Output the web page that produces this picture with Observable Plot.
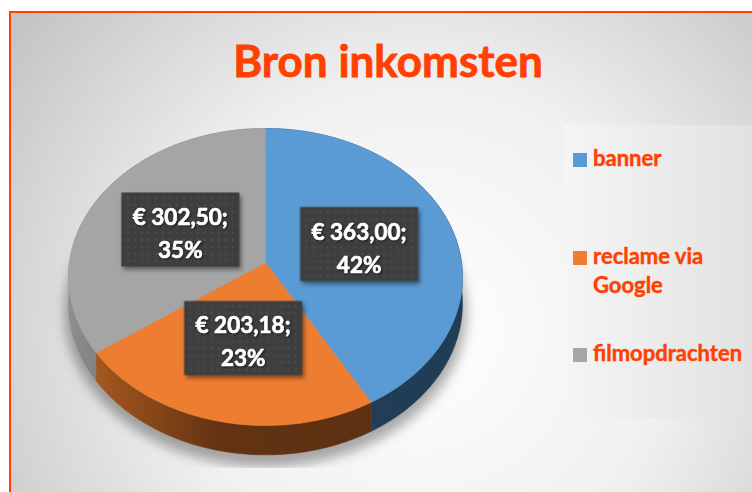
<!DOCTYPE html>
<html>
<head>
<meta charset="utf-8">
<script src="https://cdn.jsdelivr.net/npm/d3@7"></script>
<script src="https://cdn.jsdelivr.net/npm/@observablehq/plot@0.6"></script>
<style>
  body { margin: 0; background: #ffffff; }
  #wrap { position: relative; width: 752px; height: 492px; overflow: hidden; font-family: Lato, "Open Sans", sans-serif; }
  #bg { position: absolute; left: 9px; top: 11px; width: 820px; height: 540px;
        border-left: 2px solid #ff4000; border-top: 2px solid #ff4000;
        background: radial-gradient(circle 560px at 409px 317px, #ffffff 0%, #f0f0f0 45%, #c4c4c4 90%); }
  #legendbox { position: absolute; left: 565px; top: 125px; width: 200px; height: 293px;
        background: linear-gradient(to right, #f5f5f5, #e0e0e0); }
  #title { position: absolute; left: 188px; top: 38px; width: 400px; text-align: center;
        font-size: 44px; line-height: 44px; font-weight: 700; color: #ff4000; white-space: nowrap;
        -webkit-text-stroke: 0.8px #ff4000; }
  .leg { position: absolute; left: 573px; }
  .leg .sw { position: absolute; left: 0; width: 14px; height: 14px; }
  .leg .tx { position: absolute; left: 20px; width: 158px; font-size: 22px; line-height: 29px;
        font-weight: 700; color: #ff4000; -webkit-text-stroke: 0.4px #ff4000; }
  #chart { position: absolute; left: 0; top: 0; }
  .lblbox { filter: drop-shadow(2px 3px 2px rgba(0,0,0,0.45)); }
  .lbltext { filter: drop-shadow(1px 1px 1px rgba(0,0,0,0.55)); }
</style>
</head>
<body>
<div id="wrap">
  <div id="bg"></div>
  <div id="legendbox"></div>
  <div id="chart"></div>
  <div id="title"></div>
  <div id="legend"></div>
</div>
<script>
// ---- data ----
const chartTitle = "Bron inkomsten";
const categories = ["banner", "reclame via Google", "filmopdrachten"];
const values = [363.00, 203.18, 302.50];
const colors = ["#5b9bd5", "#ed7d31", "#a5a5a5"];
const wallFills = ["url(#wallBlue)", "url(#wallOrange)", "url(#wallGray)"];

// ---- 3D pie geometry (projective tilt) ----
const C = -0.0976;   // perspective factor
const T = 0.18;      // pie thickness in pie units
function proj(frac, r, t) {
  const th = 2 * Math.PI * frac;
  const u = r * Math.sin(th), v = -r * Math.cos(th);
  const w = 1 + C * v;
  return {px: u / w, py: (v + t) / w};
}
function arc(a0, a1, t, r = 1) {
  const n = Math.max(2, Math.ceil((a1 - a0) * 360));
  return d3.range(n + 1).map(k => proj(a0 + (a1 - a0) * k / n, r, t));
}
const total = d3.sum(values);
let acc = 0;
const slices = categories.map((c, i) => {
  const a0 = acc / total; acc += values[i];
  return {cat: c, value: values[i], a0, a1: acc / total};
});
const faces = slices.flatMap(s => [proj(0, 0, 0), ...arc(s.a0, s.a1, 0)].map(p => ({...p, key: s.cat})));
const walls = slices.flatMap(s => [...arc(s.a0, s.a1, 0), ...arc(s.a0, s.a1, T).reverse()].map(p => ({...p, key: s.cat + " zijkant"})));
const shadow = arc(0, 1, T + 0.05, 1.02);
const labels = slices.map(s => ({
  ...proj((s.a0 + s.a1) / 2, 0.5, 0),
  text: `€ ${s.value.toFixed(2).replace(".", ",")};\n${Math.round(s.value / total * 100)}%`
}));
const boxSymbol = {draw(ctx) { ctx.moveTo(-59, -37); ctx.lineTo(59, -37); ctx.lineTo(59, 37); ctx.lineTo(-59, 37); ctx.closePath(); }};

const chart = Plot.plot({
  width: 752, height: 492,
  x: {domain: [-1, 1], range: [69, 461], axis: null},
  y: {domain: [-1, 1], range: [114.9, 409.1], axis: null},
  color: {type: "ordinal", domain: [...categories, ...categories.map(c => c + " zijkant")], range: [...colors, ...wallFills]},
  style: {background: "transparent", overflow: "visible"},
  marks: [
    Plot.line(shadow, {x: "px", y: "py", fill: "#000000", fillOpacity: 0.32, stroke: "none", className: "pieshadow"}),
    Plot.line(walls, {x: "px", y: "py", z: "key", fill: "key", stroke: "key", strokeWidth: 0.6}),
    Plot.line(faces, {x: "px", y: "py", z: "key", fill: "key", stroke: "key", strokeWidth: 0.6}),
    Plot.dot(labels, {x: "px", y: "py", symbol: boxSymbol, fill: "url(#dots)", stroke: "none", className: "lblbox"}),
    Plot.text(labels, {x: "px", y: "py", text: "text", fill: "white", stroke: "white", strokeWidth: 0.7,
      fontSize: 22.5, fontWeight: 700, lineHeight: 1.47, fontFamily: "Lato", dy: 1.5, className: "lbltext"})
  ]
});

const svg = d3.select(chart);
const defs = svg.insert("defs", ":first-child");
function lin(id, stops) {
  const g = defs.append("linearGradient").attr("id", id).attr("x1", 0).attr("x2", 1).attr("y1", 0).attr("y2", 0);
  stops.forEach(([o, c]) => g.append("stop").attr("offset", o).attr("stop-color", c));
}
lin("wallOrange", [[0, "#a5571f"], [0.45, "#633313"], [1, "#5c3011"]]);
lin("wallBlue", [[0, "#223f58"], [1, "#213d56"]]);
lin("wallGray", [[0, "#8e8e8e"], [0.2, "#7e7e7e"], [1, "#777777"]]);
const pat = defs.append("pattern").attr("id", "dots").attr("width", 7).attr("height", 7).attr("patternUnits", "userSpaceOnUse");
pat.append("rect").attr("width", 7).attr("height", 7).attr("fill", "#3e3e3e");
pat.append("circle").attr("cx", 3.5).attr("cy", 3.5).attr("r", 0.9).attr("fill", "#585858");
defs.append("filter").attr("id", "blur").attr("x", "-20%").attr("y", "-20%").attr("width", "140%").attr("height", "140%")
  .append("feGaussianBlur").attr("stdDeviation", 6);
const yS = chart.scale("y");
const yBottom = (yS.range[1] - yS.range[0]) / 2 * proj(0.5, 1, T).py + (yS.range[0] + yS.range[1]) / 2;
defs.append("clipPath").attr("id", "shadowClip").append("rect")
  .attr("x", 0).attr("y", 0).attr("width", 752).attr("height", yBottom + 13);
svg.select(".pieshadow").attr("filter", "url(#blur)").attr("clip-path", "url(#shadowClip)");
document.getElementById("chart").appendChild(chart);

// ---- title & legend ----
document.getElementById("title").textContent = chartTitle;
const legendTops = [143, 241, 338];
const legend = d3.select("#legend");
categories.forEach((c, i) => {
  const item = legend.append("div").attr("class", "leg").style("top", legendTops[i] + "px");
  item.append("div").attr("class", "sw").style("background", colors[i]).style("top", (10) + "px");
  item.append("div").attr("class", "tx").text(c);
});
</script>
</body>
</html>
